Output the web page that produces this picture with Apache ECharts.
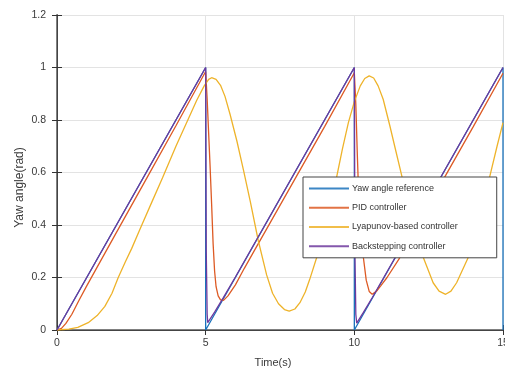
<!DOCTYPE html>
<html>
<head>
<meta charset="utf-8">
<script src="https://cdn.jsdelivr.net/npm/echarts@6/dist/echarts.min.js"></script>
<style>html,body{margin:0;padding:0;background:#fff}#c{width:505px;height:372px}</style>
</head>
<body>
<div id="c"></div>
<script>
// ---- data (time in s, yaw angle in rad) ----
const xTicks = [0, 5, 10, 15];
const yTicks = [0, 0.2, 0.4, 0.6, 0.8, 1, 1.2];
const seriesNames = ['Yaw angle reference', 'PID controller', 'Lyapunov-based controller', 'Backstepping controller'];

const refData = [[0,0],[5,1],[5,0],[10,1],[10,0],[15,1],[15,0]];

const pidData = [[0,0],[0.15,0.006],[0.3,0.025],[0.5,0.06],[0.75,0.115],[1,0.168],[2,0.372],[3,0.575],[4,0.778],[5,0.985],
  [5.05,0.88],[5.1,0.75],[5.15,0.62],[5.2,0.48],[5.25,0.33],[5.3,0.225],[5.35,0.165],[5.42,0.13],[5.5,0.115],[5.6,0.113],
  [5.75,0.13],[6,0.172],[6.3,0.235],[6.66,0.307],[7,0.375],[8,0.575],[9,0.775],[10,0.98],
  [10.05,0.86],[10.1,0.67],[10.15,0.5],[10.2,0.4],[10.3,0.28],[10.4,0.19],[10.5,0.147],[10.6,0.136],[10.75,0.148],
  [10.9,0.17],[11.1,0.2],[11.5,0.27],[12,0.375],[13,0.575],[14,0.775],[15,0.978]];

const lyapData = [[0,0],[0.4,0.003],[0.7,0.01],[1.05,0.028],[1.35,0.055],[1.61,0.09],[1.85,0.14],[2.06,0.2],[2.3,0.26],
  [2.51,0.31],[2.79,0.384],[3.2,0.49],[3.55,0.58],[4,0.7],[4.4,0.8],[4.7,0.875],[4.95,0.93],[5.1,0.955],[5.2,0.961],
  [5.35,0.955],[5.5,0.932],[5.65,0.89],[5.82,0.822],[6.05,0.72],[6.27,0.61],[6.5,0.49],[6.77,0.34],[7.05,0.21],
  [7.25,0.14],[7.45,0.1],[7.65,0.078],[7.81,0.072],[8,0.08],[8.17,0.104],[8.35,0.145],[8.5,0.193],[8.75,0.282],
  [9,0.385],[9.18,0.46],[9.4,0.58],[9.6,0.69],[9.8,0.79],[10,0.87],[10.2,0.93],[10.35,0.958],[10.5,0.968],
  [10.65,0.96],[10.8,0.93],[10.97,0.879],[11.19,0.78],[11.4,0.68],[11.59,0.59],[11.8,0.49],[12,0.4],[12.32,0.276],
  [12.65,0.18],[12.85,0.148],[13.07,0.136],[13.25,0.148],[13.44,0.18],[13.83,0.276],[14.2,0.43],[14.56,0.587],
  [14.8,0.7],[15,0.79]];

const backData = [[0,0],[5,1],[5.02,0.3],[5.05,0.06],[5.07,0.028],[5.3,0.068],[5.6,0.124],[6,0.202],[10,1],
  [10.02,0.3],[10.05,0.06],[10.08,0.026],[10.3,0.066],[10.6,0.123],[11,0.202],[15,1]];

const colors = ['#1a72bb', '#dd5a24', '#eeb32a', '#6e3a9e'];

const chart = echarts.init(document.getElementById('c'), null, {renderer: 'canvas'});
const txt = '#3a3a3a';
const ff = "'Liberation Sans', Arial, sans-serif";
chart.setOption({
  animation: false,
  color: colors,
  grid: {left: 57, right: 2, top: 15, bottom: 42, containLabel: false, outerBoundsMode: 'none'},
  xAxis: [{
    type: 'value', min: xTicks[0], max: xTicks[xTicks.length-1], interval: 5,
    name: 'Time(s)', nameLocation: 'middle', nameGap: 27,
    nameTextStyle: {color: txt, fontSize: 11, fontFamily: ff, padding: [0, 14, 0, 0]},
    axisLine: {show: true, onZero: false, lineStyle: {color: '#808080', width: 2}},
    axisTick: {show: true, inside: true, length: 5, lineStyle: {color: '#333'}},
    axisLabel: {color: txt, fontSize: 10.5, fontFamily: ff, margin: 8},
    splitLine: {show: true, lineStyle: {color: '#e3e3e3', width: 1}}
  }, {
    type: 'value', position: 'top', min: 0, max: 15, interval: 5,
    axisLine: {show: true, lineStyle: {color: '#444', width: 1}},
    axisTick: {show: true, inside: true, length: 5, lineStyle: {color: '#333'}},
    axisLabel: {show: false}, splitLine: {show: false}
  }],
  yAxis: [{
    type: 'value', min: yTicks[0], max: yTicks[yTicks.length-1], interval: 0.2,
    name: 'Yaw angle(rad)', nameLocation: 'middle', nameGap: 31, nameMoveOverlap: false,
    nameTextStyle: {color: txt, fontSize: 12, fontFamily: ff, padding: [0, 30, 0, 0]},
    axisLine: {show: true, onZero: false, lineStyle: {color: '#808080', width: 2}},
    axisTick: {show: true, inside: true, length: 5, lineStyle: {color: '#333'}},
    axisLabel: {color: txt, fontSize: 10.5, fontFamily: ff, margin: 11},
    splitLine: {show: true, lineStyle: {color: '#e3e3e3', width: 1}}
  }, {
    type: 'value', position: 'right', min: 0, max: 1.2, interval: 0.2,
    axisLine: {show: true, lineStyle: {color: '#444', width: 1}},
    axisTick: {show: true, inside: true, length: 5, lineStyle: {color: '#333'}},
    axisLabel: {show: false}, splitLine: {show: false}
  }],
  legend: {
    orient: 'vertical', left: 303, top: 177,
    padding: [6, 39, 6, 5], itemGap: 8, itemWidth: 40, itemHeight: 14,
    backgroundColor: '#fff', borderColor: '#444', borderWidth: 1, borderRadius: 0,
    textStyle: {color: '#333', fontSize: 9, fontFamily: ff, padding: [0,0,0,-2]},
    itemStyle: {opacity: 0},
    lineStyle: {width: 2, opacity: 0.85},
    data: seriesNames
  },
  series: [refData, pidData, lyapData, backData].map((d, i) => ({
    name: seriesNames[i], type: 'line', data: d, symbol: 'none',
    showSymbol: false, smooth: false, clip: true,
    lineStyle: {width: 1.3, color: colors[i]}
  }))
});
</script>
</body>
</html>
